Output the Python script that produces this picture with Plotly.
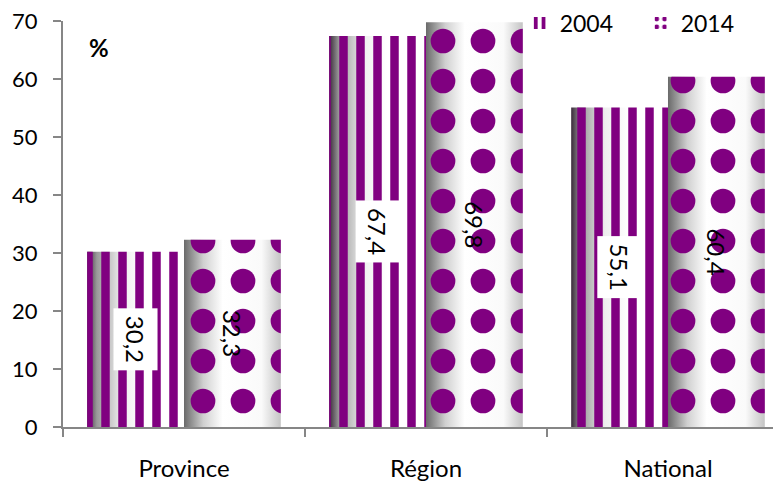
import plotly.graph_objects as go

categories = ["Province", "Région", "National"]
v2004 = [30.2, 67.4, 55.1]
v2014 = [32.3, 69.8, 60.4]
labels2004 = ["30,2", "67,4", "55,1"]
labels2014 = ["32,3", "69,8", "60,4"]
ytick_vals = [0, 10, 20, 30, 40, 50, 60, 70]

FONT = "Lato"
PURPLE = "#800080"
AXIS = "#868686"
BAR_W = 0.4
X_RANGE = [-0.5, 2.467]

grad04 = [[0, "#3a2a3a"], [0.1, "#9a9a9a"], [0.35, "#eeeeee"], [0.6, "#ffffff"], [1, "#ffffff"]]
grad14 = [[0, "#6a6a6a"], [0.2, "#d0d0d0"], [0.4, "#ffffff"], [0.8, "#fafafa"], [1, "#c4c4c4"]]

fig = go.Figure()

# shaded (cylinder-like) backgrounds under each bar, from the data values
for i, (a, b) in enumerate(zip(v2004, v2014)):
    for x0, v, cs in ((i - BAR_W, a, grad04), (i, b, grad14)):
        fig.add_trace(go.Scatter(
            x=[x0, x0 + BAR_W, x0 + BAR_W, x0, x0], y=[0, 0, v, v, 0],
            fill="toself", mode="none", fillcolor="#ffffff",
            fillgradient=dict(type="horizontal", colorscale=cs),
            showlegend=False, hoverinfo="skip", xaxis="x", yaxis="y"))

fig.add_trace(go.Bar(
    x=categories, y=v2004, name="2004", xaxis="x2", yaxis="y",
    marker=dict(color="rgba(0,0,0,0)", line=dict(width=0),
                pattern=dict(shape="|", fgcolor=PURPLE, fgopacity=1, size=17,
                             solidity=0.5, fillmode="overlay"))))
fig.add_trace(go.Bar(
    x=categories, y=v2014, name="2014", xaxis="x2", yaxis="y",
    marker=dict(color="rgba(0,0,0,0)", line=dict(width=0),
                pattern=dict(shape=".", fgcolor=PURPLE, fgopacity=1, size=40,
                             solidity=0.3, fillmode="overlay"))))

annotations = []
for i in range(len(categories)):
    annotations.append(dict(x=i - BAR_W / 2, y=v2004[i] / 2, xref="x", yref="y",
                            text=labels2004[i], showarrow=False, textangle=90,
                            bgcolor="white", borderpad=7,
                            font=dict(family=FONT, size=24, color="black")))
    annotations.append(dict(x=i + BAR_W / 2, y=v2014[i] / 2, xref="x", yref="y",
                            text=labels2014[i], showarrow=False, textangle=90,
                            font=dict(family=FONT, size=24, color="black")))
annotations.append(dict(x=0.05, y=0.935, xref="paper", yref="paper", text="<b>%</b>",
                        xanchor="center", yanchor="middle", showarrow=False,
                        font=dict(family=FONT, size=24, color="black")))

fig.update_layout(
    width=773, height=473,
    margin=dict(l=55, r=0, t=13, b=54, autoexpand=False),
    paper_bgcolor="white", plot_bgcolor="white",
    barmode="group", bargap=0.2, bargroupgap=0,
    font=dict(family=FONT, size=23, color="black"),
    xaxis=dict(type="linear", range=X_RANGE, visible=False, showgrid=False,
               zeroline=False),
    xaxis2=dict(type="category", overlaying="x", anchor="y", side="bottom",
                range=X_RANGE, tickson="boundaries", ticks="outside",
                ticklen=8, tickwidth=2, tickcolor=AXIS, showline=True,
                linecolor=AXIS, linewidth=2, showgrid=False, ticklabelstandoff=19,
                ticklabeloverflow="allow",
                tickfont=dict(family=FONT, size=24, color="black")),
    yaxis=dict(range=[0, 70], tickvals=ytick_vals, ticks="outside", ticklen=8,
               tickwidth=2, tickcolor=AXIS, showline=True, linecolor=AXIS,
               linewidth=2, showgrid=False, zeroline=False, ticklabelstandoff=11,
               ticklabeloverflow="allow",
               tickfont=dict(family=FONT, size=22, color="black")),
    legend=dict(orientation="h", x=0.636, xanchor="left", y=0.995, yanchor="middle",
                entrywidth=76, bgcolor="rgba(0,0,0,0)",
                font=dict(family=FONT, size=23, color="black")),
    annotations=annotations,
)

fig.write_html("out.html")
